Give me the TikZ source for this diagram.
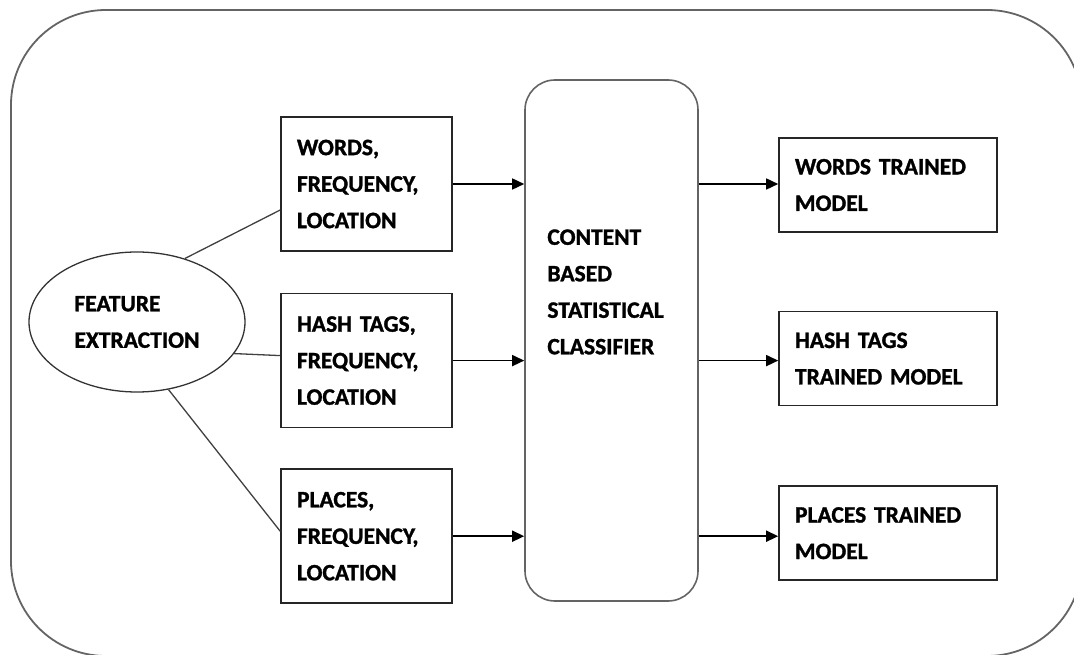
\documentclass[tikz,border=0pt]{standalone}
\usepackage{fontspec}
\setmainfont{Carlito}[BoldFeatures={FakeBold=1.3}]
\usepackage{tikz}
\usetikzlibrary{shapes.geometric,arrows.meta,positioning,calc}
\definecolor{framegray}{RGB}{100,100,100}
\tikzstyle{boxtext}=[font=\bfseries\fontsize{23.5}{36.5}\selectfont,align=left]
\tikzstyle{stepbox}=[boxtext,draw=black!85,line width=1.6pt,inner xsep=16pt]
\tikzstyle{featbox}=[stepbox,text width=139pt,minimum height=134pt]
\tikzstyle{modelbox}=[stepbox,text width=186pt,minimum height=94pt]
\tikzstyle{link}=[draw=black!75,line width=1.3pt]
\tikzstyle{flow}=[draw=black,line width=1.6pt,-{Triangle[length=12pt,width=11pt]}]
\begin{document}
\begin{tikzpicture}[x=1pt,y=1pt]
\useasboundingbox (0,0) rectangle (1074,654);
\draw[draw=framegray,line width=1.8pt,rounded corners=95pt] (11,644) rectangle (1082,-2);

\node[boxtext,draw=black!80,line width=1.3pt,ellipse,minimum width=216pt,minimum height=140pt,inner sep=0pt] (feat) at (137,332) {FEATURE\\EXTRACTION};

\node[featbox] (words) at (366.5,470) {WORDS,\\FREQUENCY,\\LOCATION};
\node[featbox,below=41pt of words] (tags) {HASH TAGS,\\FREQUENCY,\\LOCATION};
\node[featbox,below=40pt of tags] (places) {PLACES,\\FREQUENCY,\\LOCATION};

\node[draw=framegray,line width=1.6pt,rounded corners=30pt,minimum width=173pt,minimum height=521pt] (cls) at (611.5,313.5) {};
\node[boxtext,anchor=north west,inner sep=0pt] (clstext) at ($(cls.north west)+(23pt,-150pt)$) {CONTENT\\BASED\\STATISTICAL\\CLASSIFIER};

\node[modelbox] (wtm) at (888,469) {WORDS TRAINED\\MODEL};
\node[modelbox,below=78pt of wtm] (htm) {HASH TAGS\\TRAINED MODEL};
\node[modelbox,below=79pt of htm] (ptm) {PLACES TRAINED\\MODEL};

\draw[link] (feat.53) -- ([yshift=-26pt]words.west);
\draw[link] (feat.-18) -- ([yshift=5pt]tags.west);
\draw[link] (feat.-65) -- ([yshift=5pt]places.west);

\draw[flow] (words.east) -- (words.east -| cls.west);
\draw[flow] (tags.east) -- (tags.east -| cls.west);
\draw[flow] (places.east) -- (places.east -| cls.west);
\draw[flow] (words.east -| cls.east) -- (words.east -| wtm.west);
\draw[flow] (tags.east -| cls.east) -- (tags.east -| htm.west);
\draw[flow] (places.east -| cls.east) -- (places.east -| ptm.west);
\end{tikzpicture}
\end{document}
